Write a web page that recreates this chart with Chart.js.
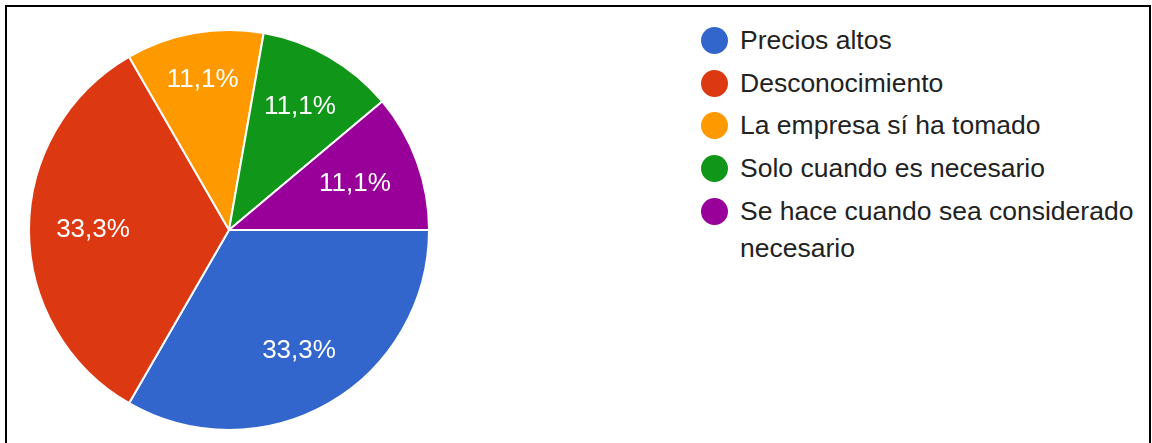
<!DOCTYPE html>
<html>
<head>
<meta charset="utf-8">
<script src="https://cdn.jsdelivr.net/npm/chart.js@4/dist/chart.umd.min.js"></script>
<style>
  html, body { margin: 0; padding: 0; background: #fff; }
  #frame {
    position: absolute; left: 5px; top: 5px; width: 1146px; height: 460px;
    border: 2px solid #000; box-sizing: border-box;
  }
  #pie { position: absolute; left: 28px; top: 29px; }
  #legend {
    position: absolute; left: 701px; top: 22px; width: 445px;
    font-family: "Liberation Sans", Arial, sans-serif; font-size: 26.5px; color: #222;
  }
  .item { position: relative; padding-left: 39px; line-height: 37px; margin-bottom: 5.7px; }
  .dot {
    position: absolute; left: 0; top: 5px; width: 27px; height: 27px; border-radius: 50%;
  }
</style>
</head>
<body>
<div id="frame"></div>
<canvas id="pie" width="402" height="402"></canvas>
<div id="legend"></div>
<script>
// answers and counts
var labels = ['Precios altos', 'Desconocimiento', 'La empresa sí ha tomado', 'Solo cuando es necesario', 'Se hace cuando sea considerado necesario'];
var counts = [3, 3, 1, 1, 1];
var colors = ['#3366CC', '#DC3912', '#FF9900', '#109618', '#990099'];

// legend on the right
var legend = document.getElementById('legend');
labels.forEach(function (txt, i) {
    var row = document.createElement('div');
    row.className = 'item';
    var dot = document.createElement('span');
    dot.className = 'dot';
    dot.style.background = colors[i];
    row.appendChild(dot);
    row.appendChild(document.createTextNode(txt));
    legend.appendChild(row);
});

// percentage text inside every slice
var sliceLabels = {
    id: 'sliceLabels',
    afterDatasetsDraw: function (chart, args, opts) {
        var ctx = chart.ctx;
        var data = chart.data.datasets[0].data;
        var total = data.reduce(function (a, b) { return a + b; }, 0);
        ctx.save();
        ctx.fillStyle = '#fff';
        ctx.font = opts.font;
        ctx.textAlign = 'center';
        ctx.textBaseline = 'middle';
        chart.getDatasetMeta(0).data.forEach(function (arc, i) {
            var mid = (arc.startAngle + arc.endAngle) / 2;
            var r = arc.outerRadius * opts.radius[i];
            var pct = (data[i] / total * 100).toFixed(1).replace('.', ',') + '%';
            ctx.fillText(pct, arc.x + Math.cos(mid) * r, arc.y + Math.sin(mid) * r);
        });
        ctx.restore();
    }
};

new Chart(document.getElementById('pie'), {
    type: 'pie',
    data: {
        labels: labels,
        datasets: [{
            data: counts,
            backgroundColor: colors,
            borderColor: '#fff',
            borderWidth: 2
        }]
    },
    options: {
        responsive: false,
        animation: false,
        rotation: 90,
        layout: { padding: 0 },
        plugins: {
            legend: { display: false },
            tooltip: { enabled: false },
            sliceLabels: {
                font: '26px "Liberation Sans", Arial, sans-serif',
                radius: [0.70, 0.68, 0.76, 0.71, 0.67]
            }
        }
    },
    plugins: [sliceLabels]
});
</script>
</body>
</html>
